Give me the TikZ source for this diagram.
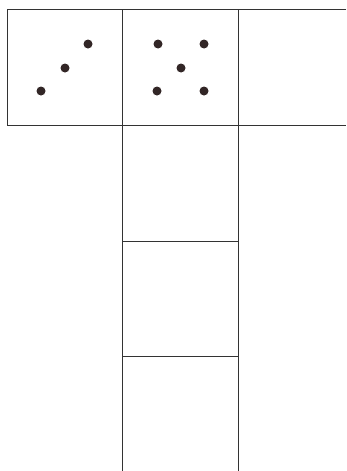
\documentclass[tikz,border=0pt]{standalone}
\begin{document}
\begin{tikzpicture}[x=1pt,y=-1pt,
  gridline/.style={draw=black!80,line width=0.9pt},
  dot/.style={circle,fill={rgb,255:red,50;green,38;blue,38},inner sep=0pt,minimum size=9pt}]
\useasboundingbox (0,0) rectangle (346,471);
% top row
\draw[gridline] (346,9) -- (7,9) -- (7,125) -- (346,125);
\draw[gridline] (122,9) -- (122,471);
\draw[gridline] (238,9) -- (238,471);
\draw[gridline] (122,241) -- (238,241);
\draw[gridline] (122,356) -- (238,356);
% dots, first box
\node[dot] (a1) at (41,91) {};
\node[dot] (a2) at (65,68) {};
\node[dot] (a3) at (88,44) {};
% dots, second box
\node[dot] (b1) at (158,44) {};
\node[dot] (b2) at (204,44) {};
\node[dot] (b3) at (181,68) {};
\node[dot] (b4) at (157,91) {};
\node[dot] (b5) at (204,91) {};
\end{tikzpicture}
\end{document}
